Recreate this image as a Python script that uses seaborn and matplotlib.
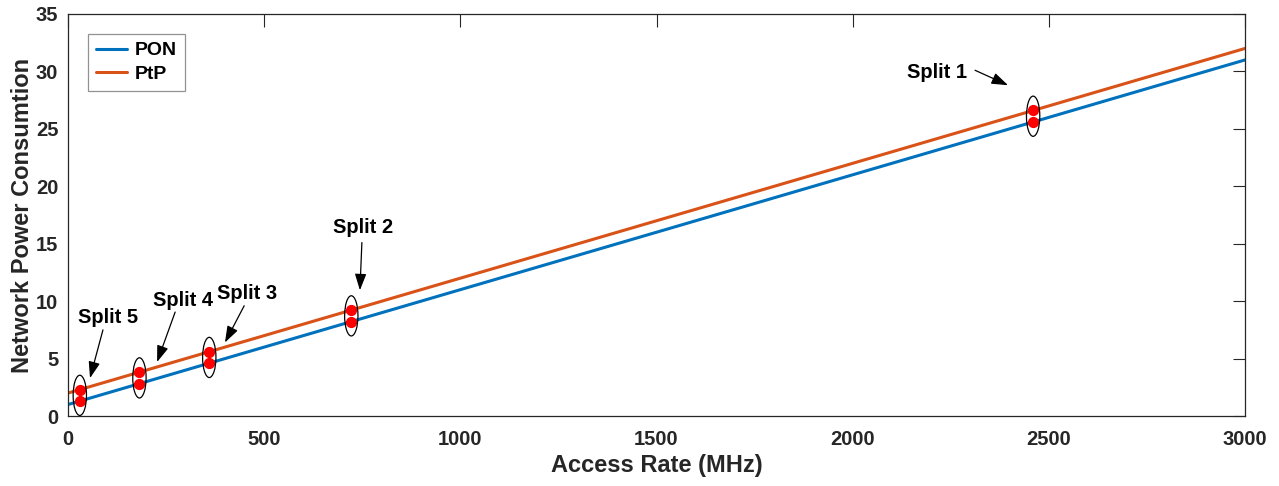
import numpy as np
import pandas as pd
import matplotlib
matplotlib.use("Agg")
import matplotlib.pyplot as plt
from matplotlib.patches import Ellipse
import seaborn as sns

# ---- data ----
rate_line = [0, 3000]
pon_line = [1, 31]
ptp_line = [2, 32]
split_names = ["Split 1", "Split 2", "Split 3", "Split 4", "Split 5"]
split_rates = [2460, 722, 360, 182, 30]
split_pon = [25.6, 8.22, 4.6, 2.82, 1.3]
split_ptp = [26.6, 9.22, 5.6, 3.82, 2.3]
x_ticks = [0, 500, 1000, 1500, 2000, 2500, 3000]
y_ticks = [0, 5, 10, 15, 20, 25, 30, 35]
# annotation text / arrow positions (data coords)
label_pos = [(2215, 29.95), (752, 16.4), (456, 10.65), (293, 10.1), (102, 8.55)]
arrow_tail = [(2312, 30.1), (749, 15.1), (449, 9.6), (273, 9.05), (89, 7.5)]
arrow_head = [(2396, 28.8), (744, 10.95), (400, 6.4), (227, 4.7), (56, 3.3)]

sns.set_style("white")
plt.rcParams['font.family'] = ['Liberation Sans', 'DejaVu Sans']
plt.rcParams['font.weight'] = 'bold'

fig = plt.figure(figsize=(12.79, 4.86), dpi=100)
ax = fig.add_axes([0.0532, 0.144, 0.9202, 0.8272])

df = pd.DataFrame({
    "rate": rate_line * 2,
    "power": pon_line + ptp_line,
    "net": ["PON"] * 2 + ["PtP"] * 2,
})
sns.lineplot(data=df, x="rate", y="power", hue="net",
             palette={"PON": "#0072BD", "PtP": "#D95319"},
             linewidth=2.2, ax=ax)

pts = pd.DataFrame({"rate": split_rates * 2, "power": split_pon + split_ptp})
sns.scatterplot(data=pts, x="rate", y="power", marker="o", s=50,
                color="#FF0000", edgecolor="#FF0000", linewidth=1.0,
                ax=ax, legend=False, zorder=5)

for r, a, b in zip(split_rates, split_pon, split_ptp):
    ax.add_patch(Ellipse(((r), (a + b) / 2), width=34, height=3.5,
                         fill=False, edgecolor="black", linewidth=0.9, zorder=6))

for name, lp, tl, hd in zip(split_names, label_pos, arrow_tail, arrow_head):
    ax.text(lp[0], lp[1], name, ha="center", va="center", fontsize=14.5,
            fontweight="bold", color="black")
    ax.annotate("", xy=hd, xytext=tl,
                arrowprops=dict(arrowstyle="-|>,head_length=1.0,head_width=0.35",
                                color="black", linewidth=0.9, shrinkA=0, shrinkB=0))

ax.set_xlim(0, 3000)
ax.set_ylim(0, 35)
ax.set_xticks(x_ticks)
ax.set_yticks(y_ticks)
ax.set_xticklabels([str(t) for t in x_ticks], fontsize=14.5, fontweight="bold", color="#262626")
ax.set_yticklabels([str(t) for t in y_ticks], fontsize=14.5, fontweight="bold", color="#262626")
ax.tick_params(direction="in", length=9, width=0.8, top=True, right=True,
               colors="#262626")
ax.tick_params(axis="x", pad=10)
ax.tick_params(axis="y", pad=7)
for s in ax.spines.values():
    s.set_color("#262626")
    s.set_linewidth(0.9)
    s.set_visible(True)
ax.set_xlabel("Access Rate (MHz)", fontsize=17, fontweight="bold", color="#262626", labelpad=4)
ax.set_ylabel("Network Power Consumtion", fontsize=17, fontweight="bold", color="#262626", labelpad=1.5)

leg = ax.legend(loc="upper left", bbox_to_anchor=(0.017, 0.95), frameon=True,
                fancybox=False, edgecolor="#777777",
                prop={"family": ["Liberation Sans", "DejaVu Sans"], "weight": "bold", "size": 14},
                handlelength=1.6, handletextpad=0.4, borderpad=0.4, labelspacing=0.3,
                borderaxespad=0)
leg.get_frame().set_linewidth(0.9)
for t in leg.get_texts():
    t.set_color("black")

fig.savefig("out.png", dpi=100)
